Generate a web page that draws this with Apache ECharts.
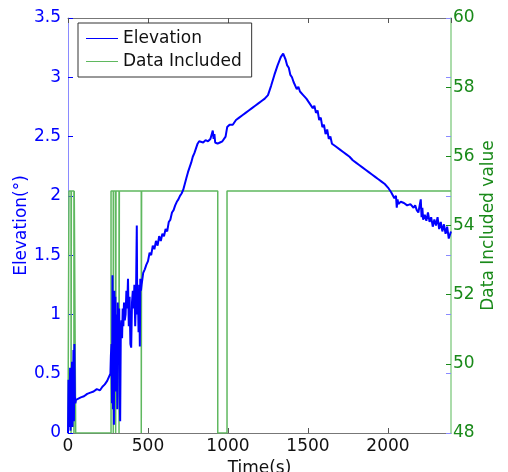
<!DOCTYPE html>
<html>
<head>
<meta charset="utf-8">
<script src="https://cdn.jsdelivr.net/npm/echarts@6/dist/echarts.min.js"></script>
<style>html,body{margin:0;padding:0;background:#fff}#c{width:508px;height:472px}</style>
</head>
<body>
<div id="c"></div>
<script>
var xTicks = [0, 500, 1000, 1500, 2000];
var leftTicks = [0, 0.5, 1, 1.5, 2, 2.5, 3, 3.5];
var rightTicks = [48, 50, 52, 54, 56, 58, 60];

var elevationTime = [0,3,5,8,10,13,16,19,22,25,28,31,34,37,40,43,46,50,
60,80,100,120,140,160,180,200,215,230,245,258,265,
268,272,275,278,281,284,287,290,293,296,299,302,305,308,311,314,317,320,323,326,330,334,338,342,346,350,355,360,365,370,375,380,385,390,395,400,405,410,415,420,425,430,433,437,441,445,449,452,456,460,
465,470,480,490,500,510,520,530,540,550,560,570,580,590,600,610,620,630,640,650,660,670,680,690,700,710,720,730,740,750,760,770,780,790,800,810,820,830,845,860,875,890,900,905,910,915,920,935,950,965,975,985,995,
1010,1030,1050,1070,1090,1110,1130,1150,1170,1190,1210,1230,1250,1270,1290,1310,1330,1345,1360,1370,1380,1390,1400,1410,1420,1430,1440,1450,1460,1470,1480,1490,1500,1510,1520,1530,1540,1550,1560,1570,1580,1590,1600,1610,1620,1630,1640,1650,1660,1670,1680,1700,1720,1740,1760,1780,1800,1820,1840,1860,1880,1900,1920,1940,1960,1980,2000,2020,2040,2050,2055,2060,2065,2080,2100,2120,2140,2160,2170,2180,2190,2200,2205,2210,2215,2220,2230,2240,2250,2260,2270,2280,2290,2300,2310,2320,2330,2340,2350,2360,2370,2380,2394];
var elevationValue = [0,0.45,0.05,0.3,0.1,0.55,0.02,0.4,0.15,0.6,0.05,0.35,0.7,0.1,0.75,0.3,0.25,0.28,
0.28,0.3,0.31,0.33,0.34,0.35,0.37,0.36,0.39,0.41,0.44,0.48,0.5,
0.65,0.75,0.25,1.33,0.2,0.9,0.07,1.2,0.6,1.15,0.35,1.0,0.8,0.2,1.1,0.9,0.6,1.05,0.3,0.1,0.85,0.95,0.8,1.05,0.9,1.1,0.95,1.0,1.2,1.05,1.3,0.9,1.15,0.75,0.72,1.1,1.2,1.05,1.25,0.9,1.15,1.75,1.0,1.2,0.85,1.25,0.73,1.3,1.2,1.25,
1.3,1.35,1.38,1.42,1.45,1.52,1.5,1.58,1.55,1.62,1.58,1.66,1.62,1.68,1.66,1.72,1.7,1.78,1.8,1.86,1.88,1.92,1.95,1.97,2.0,2.02,2.05,2.1,2.15,2.2,2.24,2.28,2.33,2.36,2.4,2.44,2.46,2.47,2.45,2.47,2.46,2.48,2.47,2.55,2.48,2.52,2.45,2.44,2.45,2.46,2.47,2.5,2.58,
2.6,2.6,2.64,2.66,2.68,2.7,2.72,2.74,2.76,2.78,2.8,2.82,2.85,2.93,3.02,3.1,3.17,3.2,3.15,3.1,3.08,3.02,3.0,2.96,2.97,2.9,2.92,2.88,2.87,2.85,2.86,2.82,2.82,2.78,2.79,2.74,2.76,2.7,2.72,2.64,2.66,2.58,2.6,2.52,2.56,2.48,2.5,2.44,2.45,2.42,2.42,2.39,2.37,2.35,2.33,2.3,2.28,2.26,2.24,2.22,2.2,2.18,2.16,2.14,2.12,2.1,2.07,2.03,1.98,2.0,1.9,1.97,1.93,1.95,1.94,1.92,1.93,1.9,1.92,1.88,1.86,1.85,1.97,1.82,1.9,1.8,1.84,1.79,1.86,1.78,1.82,1.74,1.8,1.75,1.82,1.72,1.78,1.7,1.76,1.68,1.74,1.64,1.7,1.6];

var includedTime = [0,6,6,19,19,21,21,37,37,39,39,48,48,269,269,283,283,285,285,298,298,300,300,319,319,321,321,458,458,460,460,936,936,994,994,2394];
var includedValue = [48,48,55,55,48,48,55,55,48,48,55,55,48,48,55,55,48,48,55,55,48,48,55,55,48,48,55,55,48,48,55,55,48,48,55,55];

function zip(a, b) { return a.map(function (v, i) { return [v, b[i]]; }); }

var BLUE = '#0000ff', GREEN = '#5fb85f', GTXT = '#1a8a1a';
var font = 'DejaVu Sans, sans-serif';
var FS = 17;
var chart = echarts.init(document.getElementById('c'));
chart.setOption({
  animation: false,
  backgroundColor: '#fff',
  textStyle: { fontFamily: font },
  grid: { left: 68, right: 57, top: 18, bottom: 39, containLabel: false, outerBoundsMode: 'none' },
  legend: {
    orient: 'vertical', left: 78, top: 23,
    backgroundColor: '#fff', borderColor: '#333', borderWidth: 1,
    padding: [7, 10, 7, 8], itemGap: 6, itemWidth: 32, itemHeight: 18,
    textStyle: { fontSize: FS, color: '#111', fontFamily: font },
    data: [{ name: 'Elevation', icon: 'path://M0,8 L32,8 L32,9 L0,9 Z' }, { name: 'Data Included', icon: 'path://M0,8 L32,8 L32,9 L0,9 Z' }]
  },
  xAxis: [{
    type: 'value', min: 0, max: 2394, interval: 500,
    name: 'Time(s)', nameLocation: 'middle', nameGap: 27, nameMoveOverlap: false,
    nameTextStyle: { fontSize: FS, color: '#111' },
    axisLine: { onZero: false, lineStyle: { color: '#777', width: 1 } },
    axisTick: { inside: true, length: 5, lineStyle: { color: '#555' } },
    axisLabel: { fontSize: FS, color: '#111', margin: 5, showMaxLabel: false, formatter: function (v) { return String(v); } },
    splitLine: { show: false }
  }, {
    type: 'value', min: 0, max: 2394, interval: 500, position: 'top',
    axisLine: { onZero: false, lineStyle: { color: '#777', width: 1 } },
    axisTick: { inside: true, length: 5, lineStyle: { color: '#555' } },
    axisLabel: { show: false }, splitLine: { show: false }
  }],
  yAxis: [{
    type: 'value', min: 0, max: 3.5, interval: 0.5, position: 'left',
    name: 'Elevation(°)', nameLocation: 'middle', nameGap: 38, nameMoveOverlap: false,
    nameTextStyle: { fontSize: FS, color: BLUE },
    axisLine: { show: true, onZero: false, lineStyle: { color: '#8a8aff', width: 1 } },
    axisTick: { show: true, inside: true, length: 5, lineStyle: { color: BLUE } },
    axisLabel: { fontSize: FS, color: BLUE, margin: 7 },
    splitLine: { show: false }
  }, {
    type: 'value', min: 48, max: 60, interval: 2, position: 'right',
    name: 'Data Included value', nameLocation: 'middle', nameGap: 29, nameRotate: 90, nameMoveOverlap: false,
    nameTextStyle: { fontSize: FS, color: GTXT },
    axisLine: { show: true, onZero: false, lineStyle: { color: '#8fd08f', width: 1.5 } },
    axisTick: { show: true, inside: true, length: 5, lineStyle: { color: GTXT } },
    axisLabel: { fontSize: FS, color: GTXT, margin: 2 },
    splitLine: { show: false }
  }, {
    type: 'value', min: 0, max: 3.5, interval: 0.5, position: 'right',
    axisLine: { show: false, onZero: false },
    axisTick: { show: true, inside: true, length: 5, lineStyle: { color: '#8a8aff' } },
    axisLabel: { show: false }, splitLine: { show: false }
  }],
  series: [{
    name: 'Elevation', type: 'line', xAxisIndex: 0, yAxisIndex: 0,
    data: zip(elevationTime, elevationValue), symbol: 'none',
    lineStyle: { color: BLUE, width: 2 }, itemStyle: { color: BLUE }, z: 3
  }, {
    name: 'Data Included', type: 'line', xAxisIndex: 0, yAxisIndex: 1,
    data: zip(includedTime, includedValue), symbol: 'none',
    lineStyle: { color: GREEN, width: 1.5 }, itemStyle: { color: GREEN }, z: 2
  }]
});
</script>
</body>
</html>
